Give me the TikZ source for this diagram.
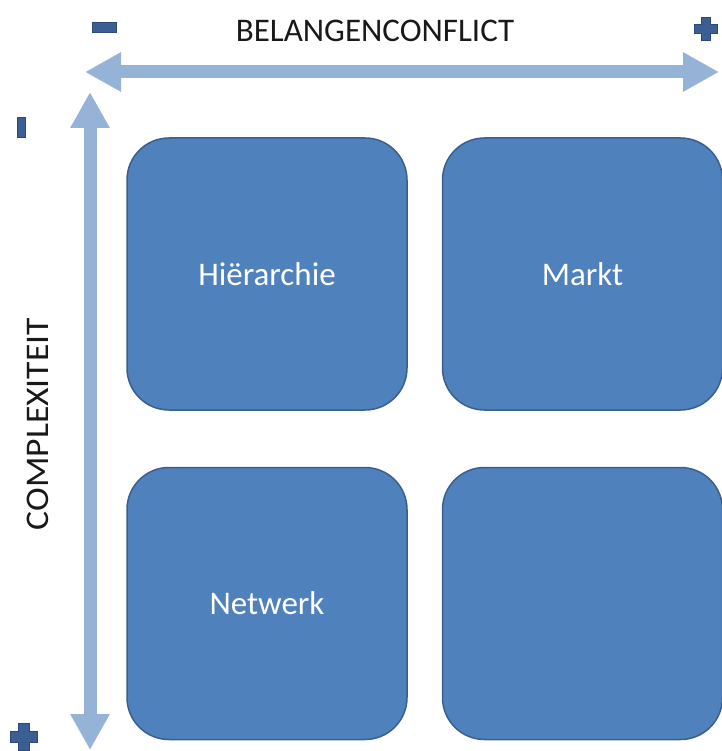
\documentclass[tikz,border=0pt]{standalone}
\usepackage{fontspec}
\setmainfont{Carlito}
\usetikzlibrary{arrows.meta, positioning}
\definecolor{cellfill}{HTML}{4F81BD}
\definecolor{celledge}{HTML}{3A5F8E}
\definecolor{axisblue}{HTML}{95B3D7}
\definecolor{signblue}{HTML}{3B5F93}
\definecolor{signedge}{HTML}{2C4A77}
\tikzset{
  cell/.style={rectangle, draw=celledge, fill=cellfill, line width=1.5pt, rounded corners=42pt,
    minimum width=280pt, minimum height=272pt, text=white, font=\fontsize{33}{39}\selectfont},
  axis/.style={draw=axisblue, line width=13pt, {Triangle[length=36pt,width=37pt]}-{Triangle[length=36pt,width=37pt]}},
  axislabel/.style={text=black!90, font=\fontsize{33}{39}\selectfont},
  signmark/.style={fill=signblue, draw=signedge, line width=1pt},
  pics/plusmark/.style={code={
    \path[signmark] (-4.5,-12) -- (4.5,-12) -- (4.5,-4.5) -- (12,-4.5) -- (12,4.5) -- (4.5,4.5)
      -- (4.5,12) -- (-4.5,12) -- (-4.5,4.5) -- (-12,4.5) -- (-12,-4.5) -- (-4.5,-4.5) -- cycle;
  }}
}

\begin{document}
\begin{tikzpicture}[x=1pt, y=-1pt, node distance=56pt and 34pt]
    \useasboundingbox (0,0) rectangle (721,751);

    % quadrants
    \node[cell] (hier) at (267,274) {Hiërarchie};
    \node[cell, right=of hier] (markt) {Markt};
    \node[cell, below=of hier] (netw) {Netwerk};
    \node[cell, below=of markt] (empty) {};

    % axes
    \coordinate (west) at (85,72);
    \coordinate (east) at (719,72);
    \coordinate (north) at (90,92);
    \coordinate (south) at (90,750);
    \draw[axis] (west) -- (east);
    \draw[axis] (north) -- (south);

    \node[axislabel] (conflict) at (375,31) {BELANGENCONFLICT};
    \node[axislabel, rotate=90, xscale=1.08] (complex) at (38,424) {COMPLEXITEIT};

    % signs at the axis ends
    \path[signmark] (92,23) rectangle (116,33);
    \path[signmark] (17,118) rectangle (25,138);
    \pic[scale=0.95] at (706,29) {plusmark};
    \pic[scale=1.15] at (24,737) {plusmark};
  \end{tikzpicture}
\end{document}
